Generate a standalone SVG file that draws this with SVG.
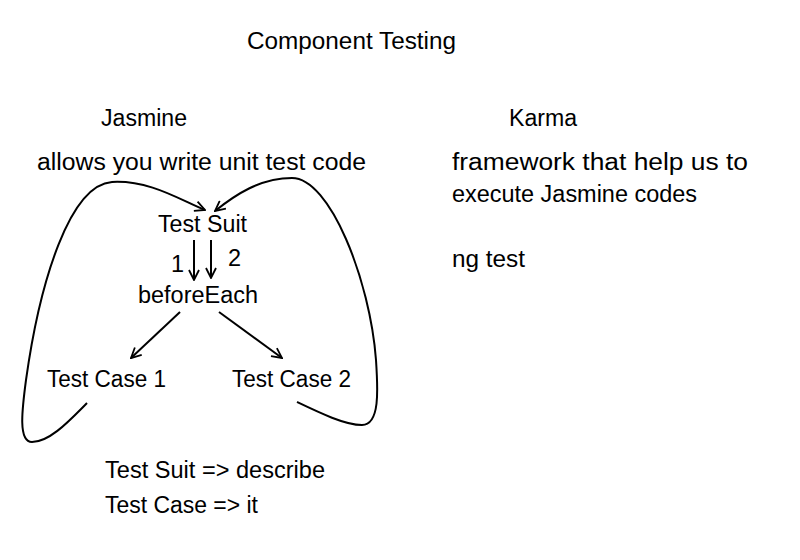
<svg xmlns="http://www.w3.org/2000/svg" width="800" height="560" viewBox="0 0 800 560">
<style>
text{font-family:"Liberation Sans",Arial,sans-serif;font-size:23.5px;fill:#000}
.c{fill:none;stroke:#000;stroke-width:2}
</style>
<defs>
<marker id="a" viewBox="0 0 12 12" refX="11" refY="6" markerWidth="12" markerHeight="12" markerUnits="userSpaceOnUse" orient="auto">
<path d="M1,1 L11,6 L1,11" fill="none" stroke="#000" stroke-width="1.8"/>
</marker>
</defs>
<rect width="800" height="560" fill="#fff"/>
<text x="247" y="49" textLength="209" lengthAdjust="spacingAndGlyphs">Component Testing</text>
<g id="jasmine"><text x="101" y="126" textLength="86" lengthAdjust="spacingAndGlyphs">Jasmine</text></g>
<g id="karma"><text x="509" y="126" textLength="68" lengthAdjust="spacingAndGlyphs">Karma</text></g>
<g id="jasmine-desc"><text x="37" y="170" textLength="329" lengthAdjust="spacingAndGlyphs">allows you write unit test code</text></g>
<g id="karma-desc">
<text x="452" y="170" textLength="296" lengthAdjust="spacingAndGlyphs">framework that help us to</text>
<text x="452" y="202" textLength="245" lengthAdjust="spacingAndGlyphs">execute Jasmine codes</text>
</g>
<g id="ngtest"><text x="452" y="267" textLength="73" lengthAdjust="spacingAndGlyphs">ng test</text></g>
<g id="testsuit"><text x="158" y="232" textLength="89" lengthAdjust="spacingAndGlyphs">Test Suit</text></g>
<g id="beforeeach"><text x="138" y="303" textLength="120" lengthAdjust="spacingAndGlyphs">beforeEach</text></g>
<g id="testcase1"><text x="47" y="387" textLength="119" lengthAdjust="spacingAndGlyphs">Test Case 1</text></g>
<g id="testcase2"><text x="232" y="387" textLength="119" lengthAdjust="spacingAndGlyphs">Test Case 2</text></g>
<g id="legend">
<text x="105" y="478" textLength="220" lengthAdjust="spacingAndGlyphs">Test Suit =&gt; describe</text>
<text x="105" y="513" textLength="153" lengthAdjust="spacingAndGlyphs">Test Case =&gt; it</text>
</g>
<g id="connectors">
<path class="c" d="M194,240 L194,280" marker-end="url(#a)"/>
<path class="c" d="M211,240 L211,278" marker-end="url(#a)"/>
<text x="171" y="272">1</text>
<text x="228" y="266">2</text>
<path class="c" d="M180,312 L131,358" marker-end="url(#a)"/>
<path class="c" d="M219,312 L282,358" marker-end="url(#a)"/>
<path class="c" d="M87,403 C70,420 50,442 32,442 C18,442 22,410 26,380 C40,280 70,185 112,182 C150,180 180,200 205,210" marker-end="url(#a)"/>
<path class="c" d="M297,402 C320,413 345,425 362,425 C380,425 378,390 376,360 C370,280 330,178 292,178 C260,178 235,195 215,211" marker-end="url(#a)"/>
</g>
</svg>
